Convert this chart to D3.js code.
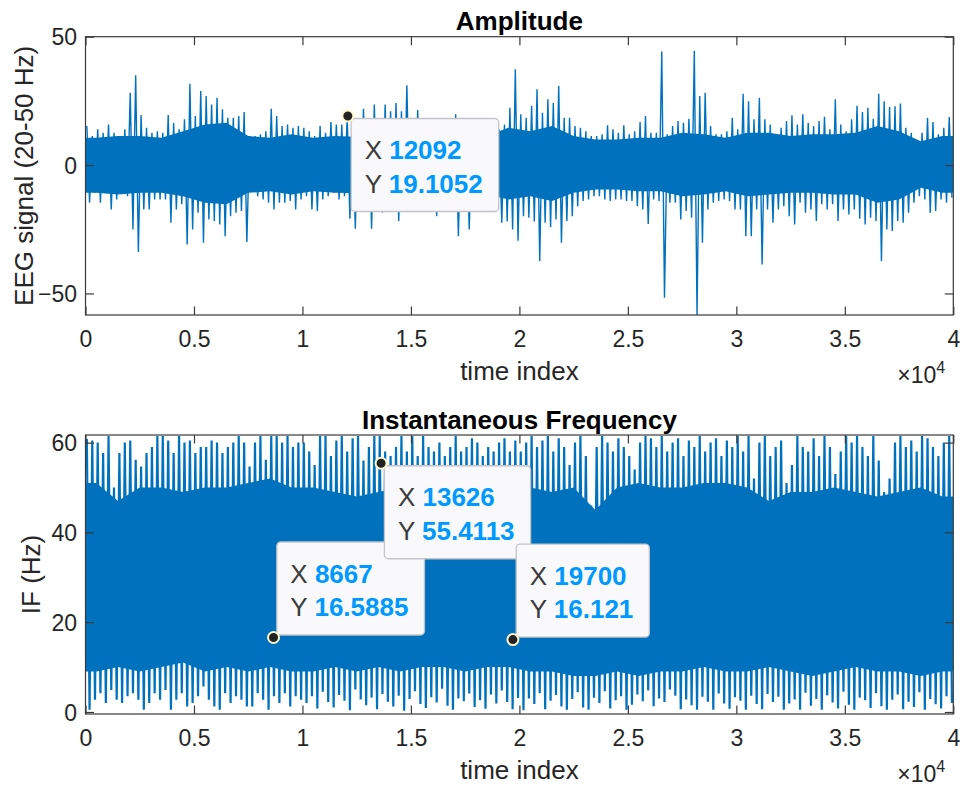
<!DOCTYPE html>
<html>
<head>
<meta charset="utf-8">
<script src="https://cdn.jsdelivr.net/npm/d3@7"></script>
<style>
  body { margin: 0; background: #fff; }
  text { font-family: "Liberation Sans", Arial, Helvetica, sans-serif; }
</style>
</head>
<body>
<div id="chart"></div>
<script>
// samples per envelope bin (peaks) and per core bin (dense band)
const nSamples = 40000;
const peakBin = 250;
const coreBin = 1000;

// Amplitude: per-bin upper / lower extremes
const ampHi = [
  15.2, 11.3, 13.9, 12.6, 15.8, 12.6, 11.3, 13.9, 28.2, 35.0,
  19.5, 14.5, 12.6, 13.2, 12.6, 19.5, 16.5, 13.9, 17.8, 31.7,
  19.1, 28.8, 26.9, 23.6, 26.2, 21.7, 18.4, 18.4, 19.1, 20.7,
  11.3, 11.3, 12.0, 13.2, 21.9, 19.1, 15.2, 15.8, 14.5, 15.2,
  14.5, 13.2, 11.3, 15.2, 12.6, 16.8, 15.8, 15.8, 19.1, 16.0,
  17.0, 21.9, 18.0, 23.6, 17.0, 23.6, 21.0, 24.2, 21.0, 31.1,
  17.0, 21.4, 17.0, 16.0, 16.0, 17.0, 16.0, 15.0, 19.8, 16.0,
  15.0, 16.0, 16.0, 15.0, 16.0, 17.0, 13.9, 15.8, 22.3, 37.3,
  19.8, 18.4, 23.1, 29.5, 20.4, 25.6, 24.2, 30.8, 18.4, 18.4,
  15.2, 14.5, 13.2, 11.3, 11.3, 12.0, 15.5, 13.9, 12.6, 15.5,
  12.0, 13.2, 16.8, 19.1, 12.6, 12.6, 44.2, 12.0, 15.2, 17.2,
  16.5, 18.0, 44.5, 26.9, 28.2, 15.2, 12.0, 12.0, 13.2, 18.4,
  13.9, 27.8, 24.9, 17.8, 26.2, 17.8, 15.8, 12.0, 14.5, 17.2,
  19.4, 15.8, 19.8, 16.5, 15.2, 17.2, 18.8, 13.9, 25.6, 15.8,
  13.2, 17.8, 23.1, 20.7, 22.3, 18.0, 27.8, 24.9, 22.6, 22.9,
  24.0, 14.5, 12.6, 8.7, 12.6, 18.4, 16.8, 12.0, 14.5, 18.7
];
const ampLo = [
  -14.7, -10.8, -14.7, -9.5, -17.3, -13.4, -10.8, -12.1, -25.1, -33.9,
  -17.3, -17.3, -13.4, -13.4, -13.4, -22.5, -17.3, -15.3, -30.9, -25.1,
  -18.6, -30.3, -21.2, -21.8, -23.1, -27.7, -19.9, -18.6, -17.9, -30.0,
  -9.5, -12.1, -13.4, -14.7, -17.3, -14.7, -14.7, -14.0, -17.3, -13.4,
  -12.1, -17.3, -17.9, -13.4, -12.1, -10.8, -13.4, -12.1, -20.9, -24.8,
  -17.5, -18.0, -24.8, -17.0, -18.5, -17.5, -16.5, -21.8, -17.5, -16.5,
  -17.0, -18.0, -17.0, -16.5, -19.9, -17.0, -16.5, -17.0, -27.7, -17.0,
  -25.1, -16.5, -17.0, -16.5, -17.0, -18.0, -22.5, -22.0, -25.1, -29.5,
  -19.9, -20.5, -22.0, -37.4, -22.5, -24.2, -21.2, -30.3, -21.8, -19.9,
  -16.0, -14.0, -13.4, -12.1, -12.1, -13.4, -14.0, -13.4, -13.4, -14.0,
  -14.0, -16.0, -17.3, -22.9, -13.4, -14.0, -51.7, -14.7, -14.7, -21.2,
  -17.9, -20.5, -58.4, -30.3, -17.3, -14.7, -14.0, -13.4, -14.0, -17.3,
  -17.3, -27.7, -27.7, -17.3, -38.7, -17.3, -22.5, -17.3, -16.0, -19.9,
  -23.1, -14.7, -18.6, -17.3, -21.8, -15.3, -17.3, -15.3, -21.8, -17.3,
  -19.2, -17.3, -20.9, -23.1, -20.5, -21.8, -37.4, -25.1, -25.7, -21.8,
  -22.5, -18.6, -14.7, -12.1, -13.4, -18.6, -17.9, -13.4, -14.7, -12.7
];
// Amplitude: dense band per 1000 samples
const ampCoreHi = [
  10.6, 11.3, 11.3, 10.6, 13.2, 15.8, 16.5, 11.3, 10.6, 12.0,
  10.6, 11.3, 11.0, 11.0, 11.0, 11.0, 11.0, 11.0, 11.5, 14.5,
  13.2, 15.2, 11.3, 10.0, 10.0, 10.6, 10.6, 12.6, 12.0, 10.6,
  12.6, 12.6, 11.3, 12.0, 12.0, 12.6, 15.2, 13.2, 9.3, 11.3
];
const ampCoreLo = [
  -10.8, -11.5, -10.8, -10.8, -12.1, -14.7, -15.3, -10.8, -10.2, -11.5,
  -10.2, -10.8, -11.0, -11.0, -11.0, -11.0, -11.0, -11.0, -11.5, -13.4,
  -12.1, -14.0, -10.8, -9.5, -9.5, -10.2, -10.2, -12.1, -11.5, -10.2,
  -12.1, -11.5, -10.8, -10.8, -11.5, -11.5, -14.7, -13.4, -8.8, -10.8
];

// Instantaneous frequency: per-bin extremes
const ifHi = [
  60.8, 60.5, 60.0, 57.7, 61.5, 50.0, 57.7, 60.0, 60.5, 56.2,
  54.7, 57.7, 59.0, 61.5, 61.5, 60.5, 57.7, 61.5, 60.0, 60.5,
  57.7, 59.0, 59.0, 60.5, 60.0, 57.7, 59.0, 60.0, 61.5, 60.0,
  54.7, 60.0, 61.5, 56.2, 61.5, 61.5, 60.0, 61.5, 59.0, 60.0,
  60.0, 58.0, 55.0, 61.5, 61.5, 57.0, 60.5, 61.5, 58.0, 61.0,
  61.5, 56.0, 59.0, 61.5, 61.5, 58.0, 57.0, 59.0, 61.5, 58.0,
  61.5, 57.0, 61.5, 59.0, 58.0, 60.0, 57.0, 59.0, 61.5, 58.0,
  59.0, 61.0, 60.0, 57.0, 59.0, 58.0, 60.0, 61.0, 58.0, 60.5,
  58.0, 60.0, 61.5, 59.0, 60.5, 61.5, 58.0, 61.0, 59.0, 55.0,
  60.0, 61.5, 57.0, 46.0, 59.0, 61.5, 60.0, 58.0, 61.0, 59.0,
  57.0, 54.0, 60.0, 61.5, 61.0, 59.0, 61.5, 58.0, 60.0, 61.0,
  57.0, 60.5, 59.0, 61.5, 58.0, 60.0, 61.0, 57.0, 60.5, 59.0,
  61.5, 58.0, 61.5, 52.0, 60.0, 61.5, 57.0, 59.0, 60.5, 51.0,
  55.0, 61.5, 59.0, 58.0, 61.0, 57.0, 61.5, 59.0, 53.0, 58.0,
  61.5, 60.0, 61.5, 59.0, 57.0, 61.5, 56.0, 49.0, 52.0, 60.0,
  61.5, 59.0, 60.5, 58.0, 61.5, 61.0, 59.0, 57.0, 60.0, 61.5
];
const ifLo = [
  0.5, 2.7, 4.2, 2.0, 4.9, 2.7, 2.0, 3.5, 4.2, 2.7,
  0.5, 2.0, 4.2, 2.7, 4.9, 0.5, 2.7, 4.2, 1.2, 2.0,
  3.5, 5.7, 2.7, 1.2, 0.5, 4.2, 2.0, 3.5, 2.7, 1.2,
  1.2, 4.2, 2.7, 0.5, 3.5, 2.0, 4.2, 1.2, 3.5, 2.7,
  2.0, 3.5, 0.8, 4.5, 2.2, 1.0, 3.8, 2.5, 0.4, 5.0,
  2.8, 1.5, 3.2, 0.6, 4.0, 2.3, 1.2, 3.6, 0.3, 2.9,
  4.6, 1.8, 0.9, 3.3, 2.1, 5.2, 1.4, 0.5, 3.0, 2.4,
  4.1, 1.1, 2.6, 0.7, 3.9, 1.9, 4.8, 2.2, 0.6, 3.1,
  0.4, 3.0, 1.8, 4.2, 0.6, 2.5, 3.8, 1.2, 0.5, 2.9,
  4.4, 1.0, 0.5, 3.2, 2.0, 4.6, 0.8, 2.6, 3.5, 0.5,
  1.6, 3.9, 2.4, 4.8, 1.3, 3.0, 2.2, 5.0, 3.6, 0.6,
  2.8, 1.5, 0.5, 3.4, 2.3, 0.5, 4.1, 1.9, 0.7, 3.3,
  2.5, 0.5, 3.6, 1.8, 0.6, 4.0, 2.2, 3.4, 0.5, 1.9,
  2.8, 0.5, 4.3, 1.4, 2.9, 0.5, 3.7, 2.1, 0.8, 4.5,
  1.6, 0.5, 3.2, 2.6, 0.9, 4.2, 1.3, 0.5, 2.7, 3.9,
  0.6, 2.3, 1.1, 4.4, 0.5, 2.9, 1.7, 0.8, 3.5, 2.0
];
// Instantaneous frequency: dense band per 1000 samples
const ifCoreHi = [
  51, 47, 50, 50, 49, 50, 50, 51, 52, 50,
  50, 49, 48, 49, 50, 50, 50, 50, 50, 50,
  50, 49, 50, 45, 50, 51, 50, 50, 51, 51,
  50, 47, 49, 49, 50, 49, 48, 49, 50, 48
];
const ifCoreLo = [
  9, 10, 9, 10, 11, 9, 10, 9, 10, 9,
  9, 10, 9, 10, 9, 10, 10, 9, 10, 10,
  9, 9, 8, 8, 9, 8, 9, 9, 10, 9,
  9, 10, 9, 8, 9, 10, 9, 9, 8, 9
];

// axes ticks
const xTickVals = [0, 5000, 10000, 15000, 20000, 25000, 30000, 35000, 40000];
const xTickLabels = ["0", "0.5", "1", "1.5", "2", "2.5", "3", "3.5", "4"];
const ampTickVals = [-50, 0, 50];
const ifTickVals = [0, 20, 40, 60];

// data tips
const ampTipX = [12092];
const ampTipY = [19.1052];
const ampTipText = ["19.1052"];
const ifTipX = [8667, 13626, 19700];
const ifTipY = [16.5885, 55.4113, 16.121];
const ifTipText = ["16.5885", "55.4113", "16.121"];
const ifTipSide = ["above", "below", "above"];

const W = 960, H = 790;
const lineColor = "#0072bd";
const axisColor = "#3a3a3a";

const svg = d3.select("#chart").append("svg")
  .attr("width", W)
  .attr("height", H);

svg.append("rect").attr("width", W).attr("height", H).attr("fill", "#fff");

function drawPanel(p) {
  const x = d3.scaleLinear().domain([0, nSamples]).range([p.left, p.right]);
  const y = d3.scaleLinear().domain(p.yDomain).range([p.bottom, p.top]);

  const clipId = "clip-" + p.id;
  svg.append("clipPath").attr("id", clipId)
    .append("rect")
    .attr("x", p.left).attr("y", p.top)
    .attr("width", p.right - p.left).attr("height", p.bottom - p.top);

  const g = svg.append("g").attr("clip-path", "url(#" + clipId + ")");

  // dense band, extended to both ends of the record
  const core = p.coreHi.map((v, i) => ({ s: i * coreBin + coreBin / 2, hi: v, lo: p.coreLo[i] }));
  core.unshift({ s: 0, hi: p.coreHi[0], lo: p.coreLo[0] });
  core.push({ s: nSamples, hi: p.coreHi[p.coreHi.length - 1], lo: p.coreLo[p.coreLo.length - 1] });

  g.append("path")
    .datum(core)
    .attr("fill", lineColor)
    .attr("d", d3.area()
      .x(d => x(d.s))
      .y0(d => y(d.lo))
      .y1(d => y(d.hi)));

  // signal trace through the per-bin extremes
  const trace = [];
  p.hi.forEach((v, k) => {
    trace.push([k * peakBin + peakBin * 0.25, v]);
    trace.push([k * peakBin + peakBin * 0.75, p.lo[k]]);
  });

  g.append("path")
    .datum(trace)
    .attr("fill", "none")
    .attr("stroke", lineColor)
    .attr("stroke-width", p.lineWidth)
    .attr("d", d3.line().x(d => x(d[0])).y(d => y(d[1])));

  // box
  svg.append("rect")
    .attr("x", p.left).attr("y", p.top)
    .attr("width", p.right - p.left).attr("height", p.bottom - p.top)
    .attr("fill", "none")
    .attr("stroke", axisColor)
    .attr("stroke-width", 1.2);

  const tick = 8.5;

  svg.append("g")
    .attr("transform", "translate(0," + p.bottom + ")")
    .call(d3.axisBottom(x).tickValues(xTickVals)
      .tickFormat((d, i) => xTickLabels[i])
      .tickSize(-tick).tickPadding(16));
  svg.append("g")
    .attr("transform", "translate(0," + p.top + ")")
    .call(d3.axisTop(x).tickValues(xTickVals).tickFormat("").tickSize(-tick));

  const yAxis = svg.append("g")
    .attr("transform", "translate(" + p.left + ",0)")
    .call(d3.axisLeft(y).tickValues(p.yTicks).tickFormat(d3.format("d"))
      .tickSize(-tick).tickPadding(8.5));
  svg.append("g")
    .attr("transform", "translate(" + p.right + ",0)")
    .call(d3.axisRight(y).tickValues(p.yTicks).tickFormat("").tickSize(-tick));

  svg.selectAll(".domain").remove();
  svg.selectAll(".tick line").attr("stroke", axisColor).attr("stroke-width", 1.2);
  svg.selectAll(".tick text")
    .attr("fill", "#262626")
    .style("font-size", "23px")
    .style("font-family", "'Liberation Sans', Arial, sans-serif");
  yAxis.selectAll(".tick text").attr("dy", "0.35em");

  // title
  svg.append("text")
    .attr("x", (p.left + p.right) / 2)
    .attr("y", p.titleY)
    .attr("text-anchor", "middle")
    .style("font-size", "26px")
    .style("font-weight", "bold")
    .attr("fill", "#000")
    .text(p.title);

  // x label
  svg.append("text")
    .attr("x", (p.left + p.right) / 2)
    .attr("y", p.bottom + 65)
    .attr("text-anchor", "middle")
    .style("font-size", "26px")
    .attr("fill", "#262626")
    .text("time index");

  // exponent
  const ex = svg.append("text")
    .attr("x", p.right - 56)
    .attr("y", p.bottom + 68)
    .style("font-size", "23px")
    .attr("fill", "#262626");
  ex.append("tspan").text("\u00d710");
  ex.append("tspan").attr("dy", -10).style("font-size", "16px").text("4");

  // y label
  svg.append("text")
    .attr("transform", "translate(" + p.yLabelX + "," + (p.top + p.bottom) / 2 + ") rotate(-90)")
    .attr("text-anchor", "middle")
    .style("font-size", "26px")
    .attr("fill", "#262626")
    .text(p.yLabel);

  return { x, y };
}

function drawTip(sc, tx, ty, label, side) {
  const px = sc.x(tx), py = sc.y(ty);
  const g = svg.append("g");
  const boxH = 93;
  const padL = 13.5, padR = 16;

  const rect = g.append("rect")
    .attr("rx", 4).attr("ry", 4)
    .attr("fill", "#f9f9fc")
    .attr("stroke", "#c4c4c8")
    .attr("stroke-width", 1.3);

  const top = side === "above" ? py - 2.5 - boxH : py + 2.5;
  const left = px + 3.3;

  const lines = [["X", String(tx)], ["Y", label]];
  let maxW = 0;
  lines.forEach((ln, i) => {
    const t = g.append("text")
      .attr("x", left + padL)
      .attr("y", top + (i === 0 ? 40.5 : 74))
      .style("font-size", "26px");
    t.append("tspan").attr("fill", "#3c3c3c").text(ln[0] + " ");
    t.append("tspan").attr("fill", "#0099ff").style("font-weight", "bold").text(ln[1]);
    maxW = Math.max(maxW, t.node().getComputedTextLength());
  });

  rect.attr("x", left).attr("y", top)
    .attr("width", maxW + padL + padR)
    .attr("height", boxH);

  g.append("circle")
    .attr("cx", px).attr("cy", py)
    .attr("r", 5.5)
    .attr("fill", "#222")
    .attr("stroke", "#fbf6c8")
    .attr("stroke-width", 2);
}

const amp = drawPanel({
  id: "amp", left: 85.5, right: 953.3, top: 36.7, bottom: 315,
  yDomain: [-58.4, 50], yTicks: ampTickVals,
  hi: ampHi, lo: ampLo, coreHi: ampCoreHi, coreLo: ampCoreLo, lineWidth: 1.4,
  title: "Amplitude", titleY: 29.5,
  yLabel: "EEG signal (20-50 Hz)", yLabelX: 32.5
});

const ifp = drawPanel({
  id: "if", left: 85.5, right: 953.3, top: 435, bottom: 714,
  yDomain: [-0.45, 61.7], yTicks: ifTickVals,
  hi: ifHi, lo: ifLo, coreHi: ifCoreHi, coreLo: ifCoreLo, lineWidth: 2.2,
  title: "Instantaneous Frequency", titleY: 429,
  yLabel: "IF (Hz)", yLabelX: 40
});

ampTipX.forEach((t, i) => drawTip(amp, t, ampTipY[i], ampTipText[i], "below"));
ifTipX.forEach((t, i) => drawTip(ifp, t, ifTipY[i], ifTipText[i], ifTipSide[i]));
</script>
</body>
</html>
